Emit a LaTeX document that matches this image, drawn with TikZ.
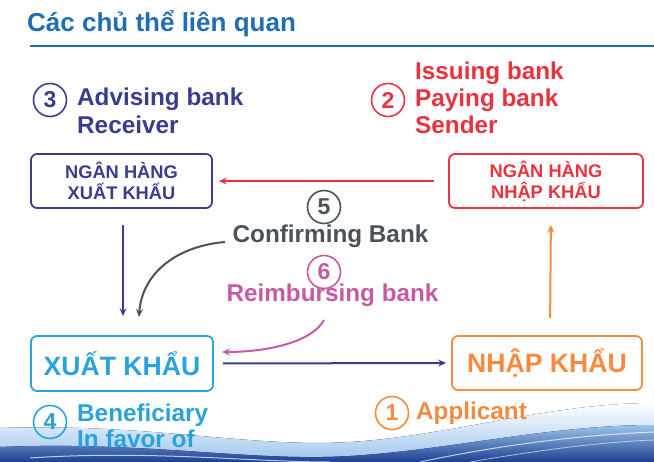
\documentclass[tikz,border=0pt]{standalone}
\usepackage{fontspec}
\setmainfont{Liberation Sans}
\usetikzlibrary{arrows.meta}
\definecolor{ttl}{HTML}{1F6DB3}
\definecolor{dkb}{HTML}{3A3D8F}
\definecolor{rd}{HTML}{E8333F}
\definecolor{gy}{HTML}{4A525A}
\definecolor{pk}{HTML}{C65AA5}
\definecolor{lb}{HTML}{2AA3DD}
\definecolor{og}{HTML}{F58B3E}
\definecolor{wv1}{HTML}{9CC4EC}
\definecolor{wv2}{HTML}{1B3F8F}
\tikzset{
  numc/.style={circle, draw, line width=1.6pt, minimum size=33pt, inner sep=0pt, font=\fontsize{23}{23}\selectfont\bfseries},
  lbl/.style={anchor=base west, inner sep=0pt, font=\fontsize{24.3}{24}\selectfont\bfseries},
  bx/.style={draw, rounded corners=6pt, line width=1.8pt, align=center, inner sep=0pt},
  smalltxt/.style={font=\fontsize{18.3}{21}\selectfont\bfseries},
  bigtxt/.style={font=\fontsize{26.6}{26}\selectfont\bfseries},
  conn/.style={line width=2pt, -{Stealth[length=8pt,width=7pt,inset=3pt]}}
}
\begin{document}
\begin{tikzpicture}[x=1pt,y=-1pt]
\useasboundingbox (0,0) rectangle (654,462);
% bottom wave
\fill[top color=white, bottom color=wv1] (0,428) .. controls (150,423) and (250,448) .. (350,442) .. controls (450,436) and (550,403) .. (654,403) -- (654,462) -- (0,462) -- cycle;
\fill[top color=wv1, bottom color=wv2] (0,447) .. controls (150,441) and (250,462) .. (350,456) .. controls (450,450) and (550,425) .. (654,425) -- (654,462) -- (0,462) -- cycle;
\draw[white, line width=1pt, opacity=0.7] (30,458) .. controls (150,450) and (250,462) .. (330,462);
\draw[white, line width=1pt, opacity=0.7] (420,462) .. controls (500,445) and (580,435) .. (654,432);
\draw[white, line width=0.8pt, opacity=0.6] (470,462) .. controls (540,450) and (600,442) .. (654,440);
% title
\node[anchor=base west, inner sep=0pt, text=ttl, font=\fontsize{26}{26}\selectfont\bfseries] (title) at (27,32) {Các chủ thể liên quan};
\coordinate (rl) at (30,46);
\coordinate (rr) at (654,46);
\draw[ttl, line width=2.4pt] (rl) -- (rr);
% boxes
\node[bx, dkb, text=dkb, smalltxt, minimum width=181pt, minimum height=54pt] (nhx) at (121.5,181) {NGÂN HÀNG\\XUẤT KHẨU};
\node[bx, rd, text=rd, smalltxt, minimum width=194pt, minimum height=54pt] (nhn) at (546,181) {NGÂN HÀNG\\NHẬP KHẨU};
\node[bx, lb, text=lb, bigtxt, minimum width=182pt, minimum height=55pt] (xk) at (122,363.5) {XUẤT KHẨU};
\node[bx, og, text=og, bigtxt, minimum width=190pt, minimum height=54pt] (nk) at (547,363) {NHẬP KHẨU};
% labels
\node[numc, dkb, text=dkb] (c3) at (50,100) {3};
\node[lbl, text=dkb] (adv) at (77,106) {Advising bank};
\node[lbl, text=dkb] (rcv) at (77,134) {Receiver};
\node[numc, rd, text=rd] (c2) at (388,100) {2};
\node[lbl, text=rd] (iss) at (415,80) {Issuing bank};
\node[lbl, text=rd] (pay) at (415,107) {Paying bank};
\node[lbl, text=rd] (snd) at (415,134) {Sender};
\node[numc, gy, text=gy] (c5) at (324,207) {5};
\node[lbl, anchor=base, text=gy] (conf) at (330.5,243) {Confirming Bank};
\node[numc, pk, text=pk] (c6) at (324,272) {6};
\node[lbl, anchor=base, text=pk] (reim) at (332.5,302) {Reimbursing bank};
\node[numc, lb, text=lb] (c4) at (50,422) {4};
\node[lbl, text=lb] (ben) at (77,422) {Beneficiary};
\node[lbl, text=lb] (fav) at (77,448) {In favor of};
\node[numc, og, text=og] (c1) at (392,413) {1};
\node[lbl, text=og] (app) at (416,420) {Applicant};
% connectors
\draw[conn, rd, shorten <=14pt, shorten >=6pt] (nhn.west) -- (nhx.east);
\draw[conn, dkb, shorten <=16pt, shorten >=19pt] ([xshift=1.5pt]nhx.south) -- ([xshift=1pt]xk.north);
\draw[conn, dkb, shorten <=9pt, shorten >=5pt] (xk.east) -- (nk.west);
\draw[conn, og, shorten <=17pt, shorten >=16pt] ([xshift=3pt]nk.north) -- ([xshift=5pt]nhn.south);
\coordinate (gs) at (225,242);
\coordinate (ge) at (139,317);
\draw[conn, gy] (gs) .. controls (178,246) and (142,272) .. (ge);
\coordinate (ps) at (324,320);
\coordinate (pe) at (222,352);
\draw[conn, pk] (ps) .. controls (312,342) and (268,352) .. (pe);
\end{tikzpicture}
\end{document}
